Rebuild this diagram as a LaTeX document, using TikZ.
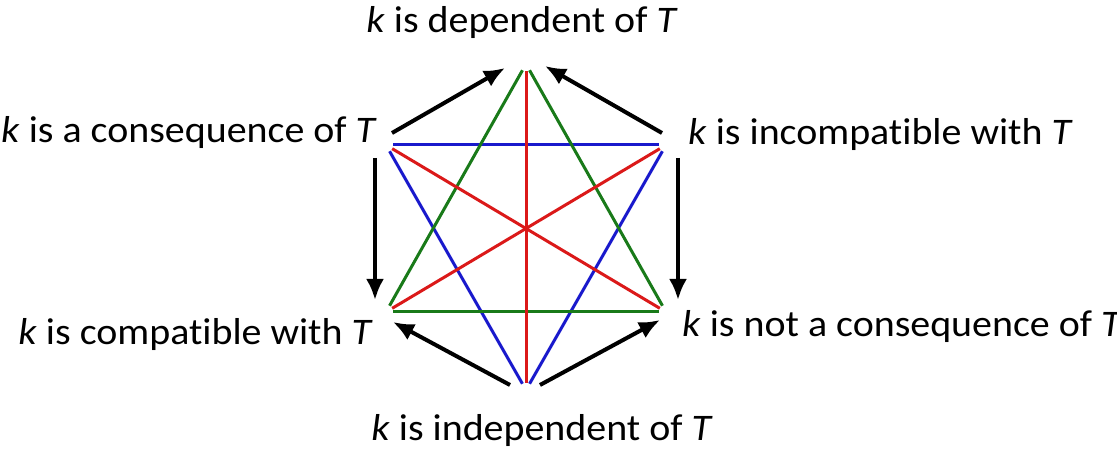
\documentclass[tikz,border=0pt]{standalone}
\usepackage{fontspec}
\setmainfont{Carlito}[Ligatures=NoCommon,FakeStretch=1.065]
\usetikzlibrary{arrows.meta}
\definecolor{darkgreen}{rgb}{.1,.48,.1}
\definecolor{lineblue}{rgb}{.1,.1,.8}
\definecolor{linered}{rgb}{.86,.1,.1}

\begin{document}
\begin{tikzpicture}[x=1pt,y=-1pt,
  vertex/.style={circle,inner sep=0pt,minimum size=14pt},
  statement/.style={inner sep=0pt,font=\fontsize{37.5}{44}\selectfont},
  link/.style={line width=3pt},
  imply/.style={line width=4pt,-{Latex[length=21pt,width=18pt]}}]
\useasboundingbox (0,0) rectangle (1117,454);
% hexagon corners
\node[vertex] (T)  at (526,64)  {};
\node[vertex] (UL) at (386,145) {};
\node[vertex] (UR) at (666,145) {};
\node[vertex] (LL) at (386,312) {};
\node[vertex] (LR) at (666,312) {};
\node[vertex] (B)  at (526,390) {};
% statements
\node[statement,anchor=base]      (tdep)  at (522,33)  {\textit{k} is dependent of \textit{T}};
\node[statement,anchor=base east] (tcons) at (377,143) {\textit{k} is a consequence of \textit{T}};
\node[statement,anchor=base west] (tinc)  at (688,145) {\textit{k} is incompatible with \textit{T}};
\node[statement,anchor=base east] (tcomp) at (373,345) {\textit{k} is compatible with \textit{T}};
\node[statement,anchor=base west] (tncon) at (682,337) {\textit{k} is not a consequence of \textit{T}};
\node[statement,anchor=base]      (tind)  at (542,440) {\textit{k} is independent of \textit{T}};
% coloured links
\draw[link,color=lineblue] (UL) -- (UR);
\draw[link,color=lineblue] (UL) -- (B);
\draw[link,color=lineblue] (UR) -- (B);
\draw[link,color=darkgreen] (LL) -- (LR);
\draw[link,color=darkgreen] (T) -- (LL);
\draw[link,color=darkgreen] (T) -- (LR);
\draw[link,color=linered] (T) -- (B);
\draw[link,color=linered] (UL) -- (LR);
\draw[link,color=linered] (UR) -- (LL);
% implications
\draw[imply] ([shift={(6,-12)}]UL.center) -- ([shift={(-21,4)}]T.center);
\draw[imply] ([shift={(-4,-12)}]UR.center) -- ([shift={(19,2)}]T.center);
\draw[imply] ([shift={(-11,13)}]UL.center) -- ([shift={(-11,-12)}]LL.center);
\draw[imply] ([shift={(12,13)}]UR.center) -- ([shift={(12,-12)}]LR.center);
\draw[imply] ([shift={(-16,-5)}]B.center) -- ([shift={(7,10)}]LL.center);
\draw[imply] ([shift={(14,-5)}]B.center) -- ([shift={(-6,8)}]LR.center);
\end{tikzpicture}
\end{document}
